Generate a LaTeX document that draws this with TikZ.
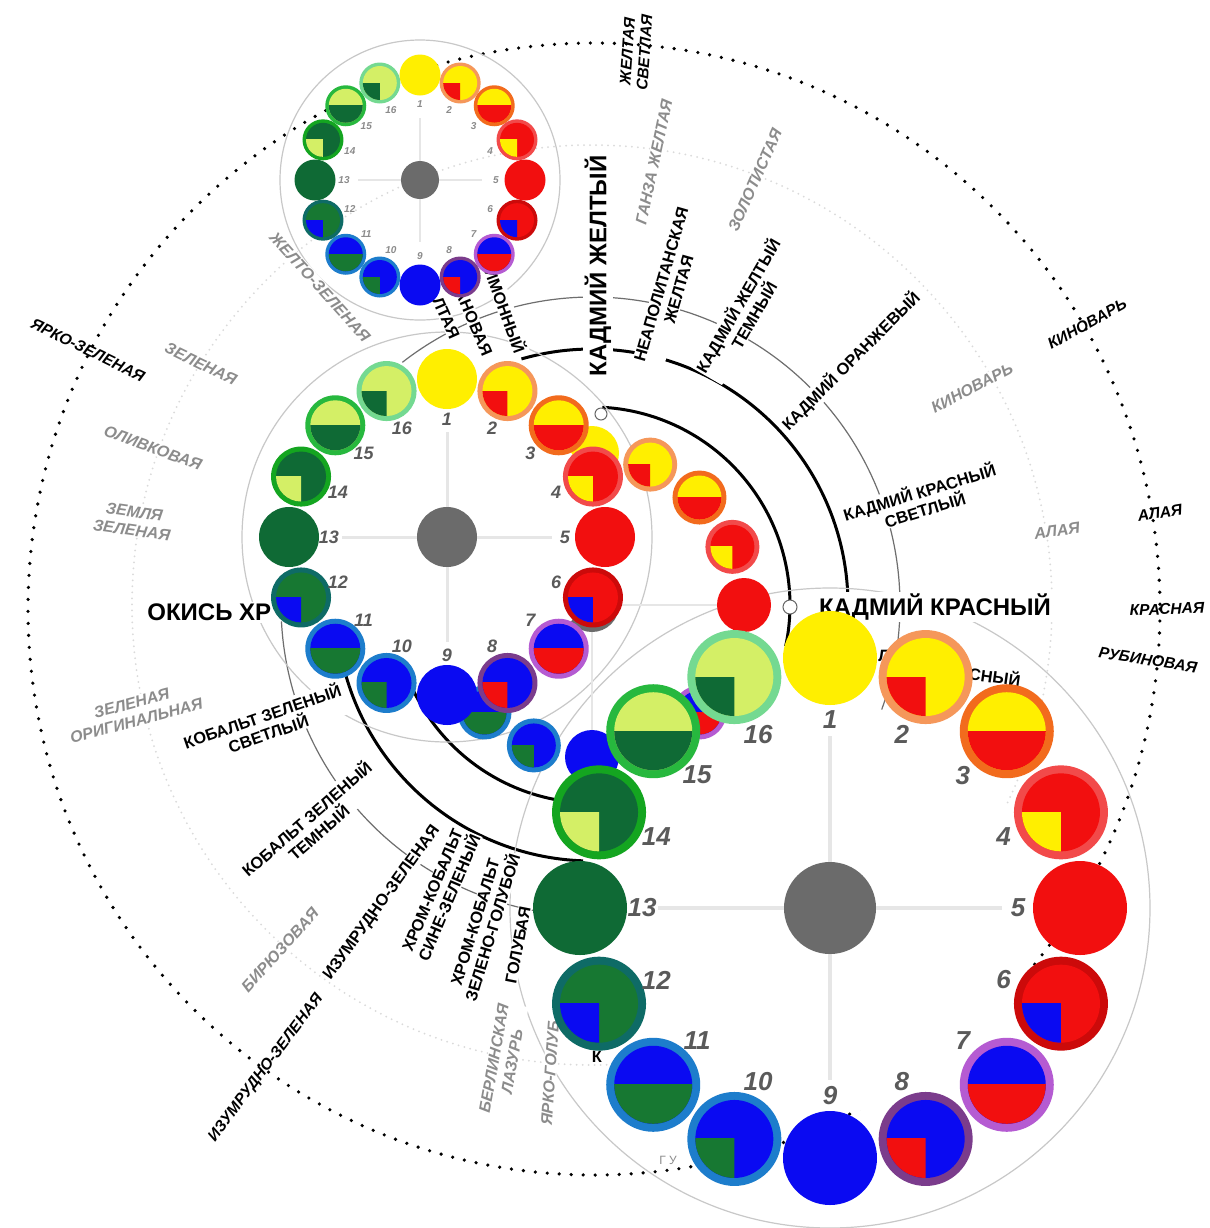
\documentclass[tikz,border=0pt]{standalone}
\usepackage{fontspec}
\setmainfont{Liberation Sans}
\definecolor{cyel}{HTML}{FFEF00}
\definecolor{cred}{HTML}{F20F0F}
\definecolor{cblu}{HTML}{0A0AF2}
\definecolor{cdg}{HTML}{0F6A35}
\definecolor{cgt}{HTML}{177832}
\definecolor{clyg}{HTML}{D4EF66}
\definecolor{rA}{HTML}{F5975A}
\definecolor{rB}{HTML}{F26B1D}
\definecolor{rC}{HTML}{F24A4A}
\definecolor{rD}{HTML}{CC0A0A}
\definecolor{rE}{HTML}{B55BD2}
\definecolor{rF}{HTML}{7B3C8C}
\definecolor{rG}{HTML}{1D7DCC}
\definecolor{rH}{HTML}{0E6B66}
\definecolor{rI}{HTML}{14A520}
\definecolor{rJ}{HTML}{27B83E}
\definecolor{rK}{HTML}{74D991}
\definecolor{cgray}{HTML}{6B6B6B}
\definecolor{textgray}{HTML}{8C8C8C}
\definecolor{numgray}{HTML}{5A5A5A}
\definecolor{crossgray}{HTML}{E6E6E6}
\definecolor{ringgray}{HTML}{C8C8C8}
\definecolor{faintgray}{HTML}{DADADA}
\definecolor{arcgray}{HTML}{6E6E6E}
\tikzset{
  bigl/.style={font=\fontsize{12}{14}\selectfont\bfseries, fill=white, inner sep=1pt},
  labl/.style={font=\fontsize{8.2}{9.2}\selectfont\bfseries, align=center, fill=white, inner sep=0.5pt},
  grayl/.style={font=\fontsize{8}{9.2}\selectfont\bfseries\itshape, text=textgray, align=center, fill=white, inner sep=0.5pt},
  outl/.style={font=\fontsize{7.8}{8.6}\selectfont\bfseries\itshape, align=center, inner sep=0pt},
  fragl/.style={font=\fontsize{8.2}{9}\selectfont\bfseries, inner sep=0pt},
  bignum/.style={font=\fontsize{13}{13}\selectfont\bfseries\itshape, text=numgray, inner sep=0pt},
  mednum/.style={font=\fontsize{9}{9}\selectfont\bfseries\itshape, text=numgray, inner sep=0pt},
  smlnum/.style={font=\fontsize{5}{5}\selectfont\bfseries\itshape, text=numgray!70, inner sep=0pt},
  crossl/.style={draw=crossgray, line width=2pt},
  ringc/.style={draw=ringgray, line width=0.6pt},
  dotring/.style={draw=black, line width=1.8pt, line cap=round, dash pattern=on 0pt off 6pt},
  faintring/.style={draw=faintgray, line width=1pt, line cap=round, dash pattern=on 0pt off 3pt},
  thinarc/.style={draw=arcgray, line width=0.6pt},
  thickarc/.style={draw=black, line width=1.5pt},
  openmk/.style={circle, draw=black!60, fill=white, minimum size=7pt, inner sep=0pt, line width=0.5pt},
}
% #1 cx, #2 cy, #3 ring radius, #4 disc radius, #5 rim width, #6 name prefix
\newcommand\colorwheel[6]{%
  \foreach \k/\t/\rc/\ic/\ac in {1/1/cyel/cyel/cyel,2/0/rA/cyel/cred,3/1/rB/cyel/cred,4/0/rC/cred/cyel,
     5/1/cred/cred/cred,6/0/rD/cred/cblu,7/1/rE/cblu/cred,8/0/rF/cblu/cred,9/1/cblu/cblu/cblu,
     10/0/rG/cblu/cgt,11/1/rG/cblu/cgt,12/0/rH/cgt/cblu,13/1/cdg/cdg/cdg,14/0/rI/cdg/clyg,
     15/1/rJ/clyg/cdg,16/0/rK/clyg/cdg}{%
    \pgfmathsetmacro\ang{90-(\k-1)*22.5}%
    \pgfmathsetmacro\px{#1+#3*cos(\ang)}%
    \pgfmathsetmacro\py{#2-#3*sin(\ang)}%
    \pgfmathsetmacro\ri{#4-#5}%
    \coordinate (#6\k) at (\px,\py);
    \fill[fill=\rc] (#6\k) circle[radius=#4];
    \fill[fill=\ic] (#6\k) circle[radius=\ri];
    \begin{scope}
      \clip (\px-#4,\py) rectangle ({\px+\t*#4},{\py+#4});
      \fill[fill=\ac] (#6\k) circle[radius=\ri];
    \end{scope}
  }}
% #1 cx, #2 cy, #3 radius, #4 style, #5 prefix
\newcommand\wheelnums[5]{%
  \foreach \k in {1,...,16}{%
    \pgfmathsetmacro\ang{90-(\k-1)*22.5}%
    \node[#4] (#5\k) at ({#1+#3*cos(\ang)},{#2-#3*sin(\ang)}) {\k};
  }}
% #1 cx, #2 cy, #3 length, #4 width
\newcommand\crosslines[4]{%
  \draw[crossl, line width=#4] (#1,#2-#3) -- (#1,#2+#3);
  \draw[crossl, line width=#4] (#1-#3,#2) -- (#1+#3,#2);}
\begin{document}
\begin{tikzpicture}[x=0.5pt,y=-0.5pt]
\fill[white] (0,0) rectangle (1210,1228);
\useasboundingbox (0,0) rectangle (1210,1228);
\coordinate (C) at (592,605);
% rings around the composition
\draw[faintring] (C) circle[radius=460];
\draw[dotring] (594,609) circle[radius=566];
% thin and thick arcs
\draw[thinarc] plot[domain=-98:128, samples=120, smooth] ({592+308*cos(\x)},{605-308*sin(\x)});
\draw[thinarc] plot[domain=183:262, samples=50, smooth] ({592+311*cos(\x)},{605-311*sin(\x)});
\draw[thickarc] plot[domain=-4:106, samples=80, smooth] ({592+256*cos(\x)},{605-256*sin(\x)});
\draw[thickarc] plot[domain=192:268, samples=60, smooth] ({592+256*cos(\x)},{605-256*sin(\x)});
\draw[thickarc] plot[domain=-12:87, samples=70, smooth] ({592+198*cos(\x)},{605-198*sin(\x)});
\draw[thickarc] plot[domain=200:275, samples=60, smooth] ({592+198*cos(\x)},{605-198*sin(\x)});
% outer circles of the wheels
\draw[ringc] (830,908) circle[radius=320];
\draw[ringc] (447,537) circle[radius=205];
\draw[ringc] (420,180) circle[radius=140];
% big labels
\node[bigl, rotate=90] (kzh) at (598,266) {КАДМИЙ ЖЕЛТЫЙ};
\node[bigl] (kkr) at (935,607) {КАДМИЙ КРАСНЫЙ};
\node[bigl, anchor=west] (okh) at (145,612) {ОКИСЬ ХР};
% black labels
\node[labl, rotate=74] (nea) at (670,287) {НЕАПОЛИТАНСКАЯ\\ЖЕЛТАЯ};
\node[labl, rotate=60] (kzt) at (745,310) {КАДМИЙ ЖЕЛТЫЙ\\ТЕМНЫЙ};
\node[labl, rotate=45] (kor) at (851,361) {КАДМИЙ ОРАНЖЕВЫЙ};
\node[labl, rotate=17] (kks) at (922,500) {КАДМИЙ КРАСНЫЙ\\СВЕТЛЫЙ};
\node[labl, rotate=19] (kbs) at (265,724) {КОБАЛЬТ ЗЕЛЕНЫЙ\\СВЕТЛЫЙ};
\node[labl, rotate=41] (kbt) at (312,825) {КОБАЛЬТ ЗЕЛЕНЫЙ\\ТЕМНЫЙ};
\node[labl, rotate=54] (izi) at (382,903) {ИЗУМРУДНО-ЗЕЛЕНАЯ};
\node[labl, rotate=67] (hks) at (441,894) {ХРОМ-КОБАЛЬТ\\СИНЕ-ЗЕЛЕНЫЙ};
\node[labl, rotate=73] (hkz) at (484,925) {ХРОМ-КОБАЛЬТ\\ЗЕЛЕНО-ГОЛУБОЙ};
\node[labl, rotate=79] (gol) at (518,945) {ГОЛУБАЯ};
\node[labl, rotate=-66] (zhl) at (446,318) {ЛТАЯ};
\node[labl, rotate=-67] (tit) at (472,318) {ТАНОВАЯ};
\node[labl, rotate=-70] (lim) at (506,310) {ИМОННЫЙ};
% grey labels
\node[grayl, rotate=78] (gan) at (654,162) {ГАНЗА ЖЕЛТАЯ};
\node[grayl, rotate=66] (zol) at (755,180) {ЗОЛОТИСТАЯ};
\node[grayl, rotate=28] (kin1) at (972,388) {КИНОВАРЬ};
\node[grayl, rotate=8] (ala1) at (1057,531) {АЛАЯ};
\node[grayl, rotate=-48] (zhz) at (320,287) {ЖЕЛТО-ЗЕЛЕНАЯ};
\node[grayl, rotate=-26] (zel) at (201,364) {ЗЕЛЕНАЯ};
\node[grayl, rotate=-20] (oli) at (153,448) {ОЛИВКОВАЯ};
\node[grayl, rotate=-8] (zem) at (133,521) {ЗЕМЛЯ\\ЗЕЛЕНАЯ};
\node[grayl, rotate=15] (zor) at (134,712) {ЗЕЛЕНАЯ\\ОРИГИНАЛЬНАЯ};
\node[grayl, rotate=48] (bir) at (280,950) {БИРЮЗОВАЯ};
\node[grayl, rotate=80] (ber) at (503,1060) {БЕРЛИНСКАЯ\\ЛАЗУРЬ};
\node[grayl, rotate=86] (yag) at (550,1073) {ЯРКО-ГОЛУБ};
% labels on the dotted ring
\node[outl, rotate=86] (zhs) at (636,52) {ЖЕЛТАЯ\\СВЕТЛАЯ};
\node[outl, rotate=29] (kin2) at (1087,324) {КИНОВАРЬ};
\node[outl, rotate=9] (ala2) at (1160,513) {АЛАЯ};
\node[outl, rotate=2] (kra) at (1167,609) {КРАСНАЯ};
\node[outl, rotate=-9] (rub) at (1148,660) {РУБИНОВАЯ};
\node[outl, rotate=-26] (yaz) at (88,350) {ЯРКО-ЗЕЛЕНАЯ};
\node[outl, rotate=53] (izo) at (266,1068) {ИЗУМРУДНО-ЗЕЛЕНАЯ};
% fragments of hidden labels
\node[fragl] (frl) at (884,656) {Л};
\node[fragl, rotate=-8] (frs) at (995,676) {СНЫЙ};
\node[fragl] (frk) at (597,1057) {К};
\node[font=\fontsize{6}{6}\selectfont, text=textgray, inner sep=0pt] (fgu) at (668,1160) {Г У};
% intermediate wheel
\crosslines{592}{605}{125}{1.2pt}
\fill[cgray] (C) circle[radius=27];
\colorwheel{592}{605}{152}{27}{5}{iw}
% medium wheel
\fill[white] (447,537) circle[radius=150];
\crosslines{447}{537}{105}{1.5pt}
\fill[cgray] (447,537) circle[radius=30];
\colorwheel{447}{537}{158}{30}{5}{mw}
\wheelnums{447}{537}{118}{mednum}{mn}
% small wheel
\crosslines{420}{180}{62}{1pt}
\fill[cgray] (420,180) circle[radius=19];
\colorwheel{420}{180}{105}{20.5}{3.5}{sw}
\wheelnums{420}{180}{76}{smlnum}{sn}
% big wheel
\fill[white] (830,908) circle[radius=205];
\crosslines{830}{908}{172}{2pt}
\fill[cgray] (830,908) circle[radius=46];
\colorwheel{830}{908}{250}{47}{8}{bw}
\wheelnums{830}{908}{188}{bignum}{bn}
% markers
\node[openmk] (mk1) at (790,607) {};
\node[openmk, minimum size=6pt] (mk2) at (601,414) {};
\end{tikzpicture}
\end{document}
